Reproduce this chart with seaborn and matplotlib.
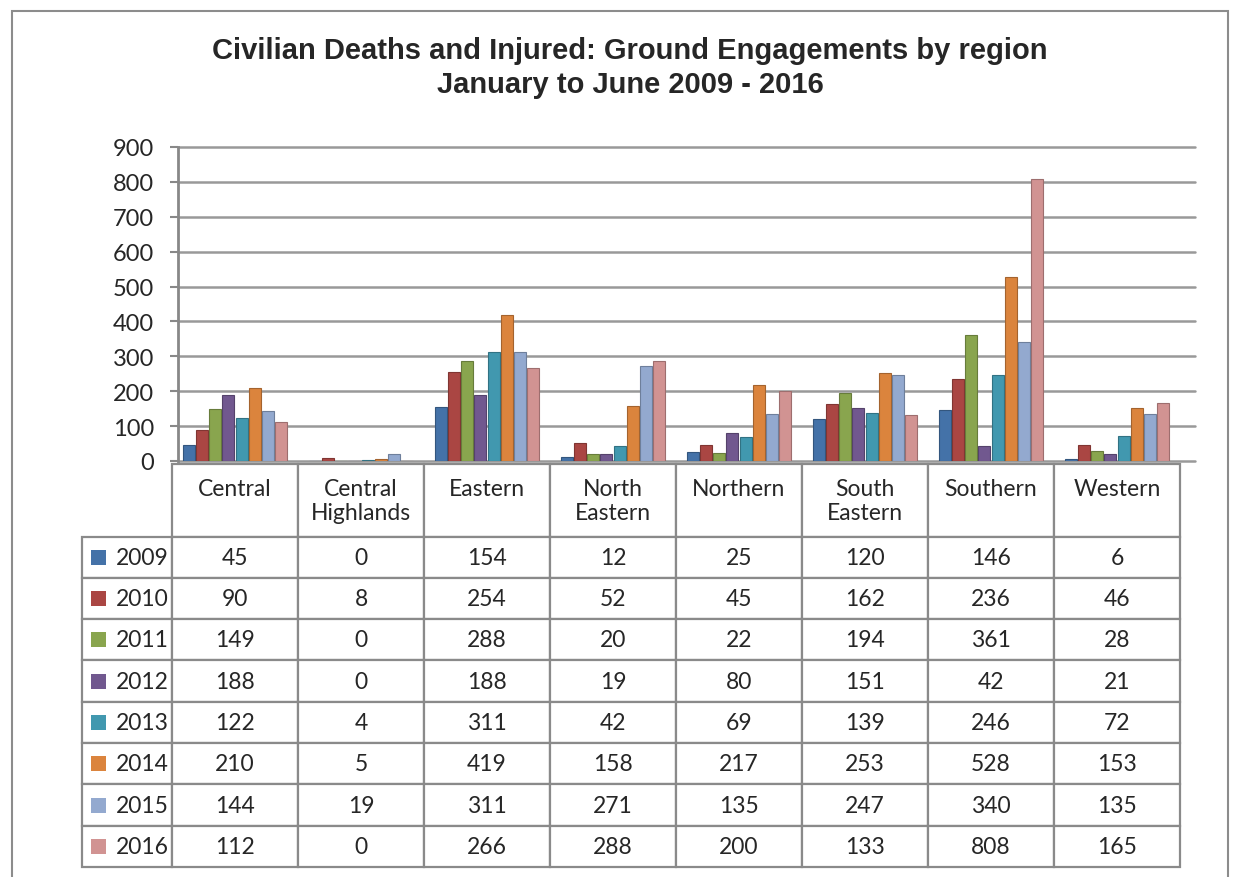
import matplotlib
matplotlib.use('Agg')
import matplotlib.pyplot as plt
from matplotlib.patches import Rectangle
from matplotlib.colors import to_rgb
import pandas as pd
import seaborn as sns

regions = ['Central', 'Central Highlands', 'Eastern', 'North Eastern',
           'Northern', 'South Eastern', 'Southern', 'Western']
region_labels = ['Central\n ', 'Central\nHighlands', 'Eastern\n ', 'North\nEastern',
                 'Northern\n ', 'South\nEastern', 'Southern\n ', 'Western\n ']
years = ['2009', '2010', '2011', '2012', '2013', '2014', '2015', '2016']

v2009 = [45, 0, 154, 12, 25, 120, 146, 6]
v2010 = [90, 8, 254, 52, 45, 162, 236, 46]
v2011 = [149, 0, 288, 20, 22, 194, 361, 28]
v2012 = [188, 0, 188, 19, 80, 151, 42, 21]
v2013 = [122, 4, 311, 42, 69, 139, 246, 72]
v2014 = [210, 5, 419, 158, 217, 253, 528, 153]
v2015 = [144, 19, 311, 271, 135, 247, 340, 135]
v2016 = [112, 0, 266, 288, 200, 133, 808, 165]
series = [v2009, v2010, v2011, v2012, v2013, v2014, v2015, v2016]

colors = ['#4472A8', '#AA4643', '#89A54E', '#71588F',
          '#4198AF', '#DB843D', '#93A9CF', '#D19392']

yticks = [0, 100, 200, 300, 400, 500, 600, 700, 800, 900]

# long form frame for seaborn
rows = []
for yr, vals in zip(years, series):
    for reg, v in zip(regions, vals):
        rows.append({'region': reg, 'year': yr, 'value': v})
df = pd.DataFrame(rows)

sns.set_style('white')
plt.rcParams['font.family'] = ['Lato', 'DejaVu Sans']

W, H = 1239, 878
AW, AH = 1180 - 172, 462 - 148
fig = plt.figure(figsize=(W / 100, H / 100), dpi=100)
ax = fig.add_axes([172 / W, 1 - 462 / H, AW / W, AH / H])

sns.barplot(data=df, x='region', y='value', hue='year', order=regions,
            hue_order=years, palette=colors, width=0.84, gap=0.08,
            saturation=1, legend=False, linewidth=0, ax=ax)

# darker rim on each bar, a hint of the excel 3d look
for bar in ax.patches:
    r, g, b = to_rgb(bar.get_facecolor())
    bar.set_edgecolor((r * 0.75, g * 0.75, b * 0.75))
    bar.set_linewidth(0.8)

ax.set_xlim(-0.5, len(regions) - 0.5)
ax.set_ylim(0, 900)
ax.set_yticks(yticks)
ax.set_xticks([])
ax.set_xlabel('')
ax.set_ylabel('')
ax.tick_params(axis='y', labelsize=17, length=6, width=1.5, color='#888888',
               pad=11, direction='out', left=True)

for y in yticks:
    ax.axhline(y, xmin=0.006, xmax=1.015, color='#999999', lw=1.8,
               clip_on=False, zorder=0)

for s in ['top', 'right', 'bottom']:
    ax.spines[s].set_visible(False)
ax.spines['left'].set_color('#888888')
ax.spines['left'].set_linewidth(2)
ax.spines['left'].set_position(('outward', -4))

# data table under the bars (bbox covers the grid, row labels sit to its left)
col_w, label_w = 126, 90
head_h, row_h = 72, 41
tb_y, tb_h = (462 - 868) / AH, 403 / AH
cell_text = [[str(v) for v in vals] for vals in series]
tbl = ax.table(cellText=cell_text, rowLabels=years, colLabels=region_labels,
               cellLoc='center', rowLoc='right', colLoc='center',
               colWidths=[col_w] * len(regions),
               bbox=[0, tb_y, 1, tb_h])
tbl._autoColumns = []
tbl.auto_set_font_size(False)
tbl.set_fontsize(16.5)
for (r, c), cell in tbl.get_celld().items():
    cell.set_edgecolor('#8a8a8a')
    cell.set_linewidth(1.6)
    cell.set_height(head_h if r == 0 else row_h)
    if c == -1:
        cell.set_width(label_w)
        cell.PAD = 0.04

fig.canvas.draw()

# legend swatches inside the row label cells, placed from the table layout
total_h = head_h + row_h * len(years)
lab_frac = label_w / (col_w * len(regions))
sw, sh = 15 / AW, 15 / AH
for i, col in enumerate(colors):
    yc = tb_y + tb_h * (1 - (head_h + row_h * (i + 0.5)) / total_h)
    fig.add_artist(Rectangle((-lab_frac + 9 / AW, yc - sh / 2), sw, sh,
                             transform=ax.transAxes, facecolor=col,
                             edgecolor='none', zorder=10))

fig.text(630 / W, 1 - 68 / H,
         'Civilian Deaths and Injured: Ground Engagements by region\nJanuary to June 2009 - 2016',
         ha='center', va='center', fontsize=21, fontweight='bold',
         family=['Liberation Sans', 'DejaVu Sans'], linespacing=1.25)

# outer chart border
fig.patches.append(Rectangle((12 / W, -0.01), (1228 - 12) / W, (H - 12) / H + 0.01,
                             transform=fig.transFigure, fill=False,
                             edgecolor='#8c8c8c', lw=1.5))

fig.savefig('out.png', dpi=100)
